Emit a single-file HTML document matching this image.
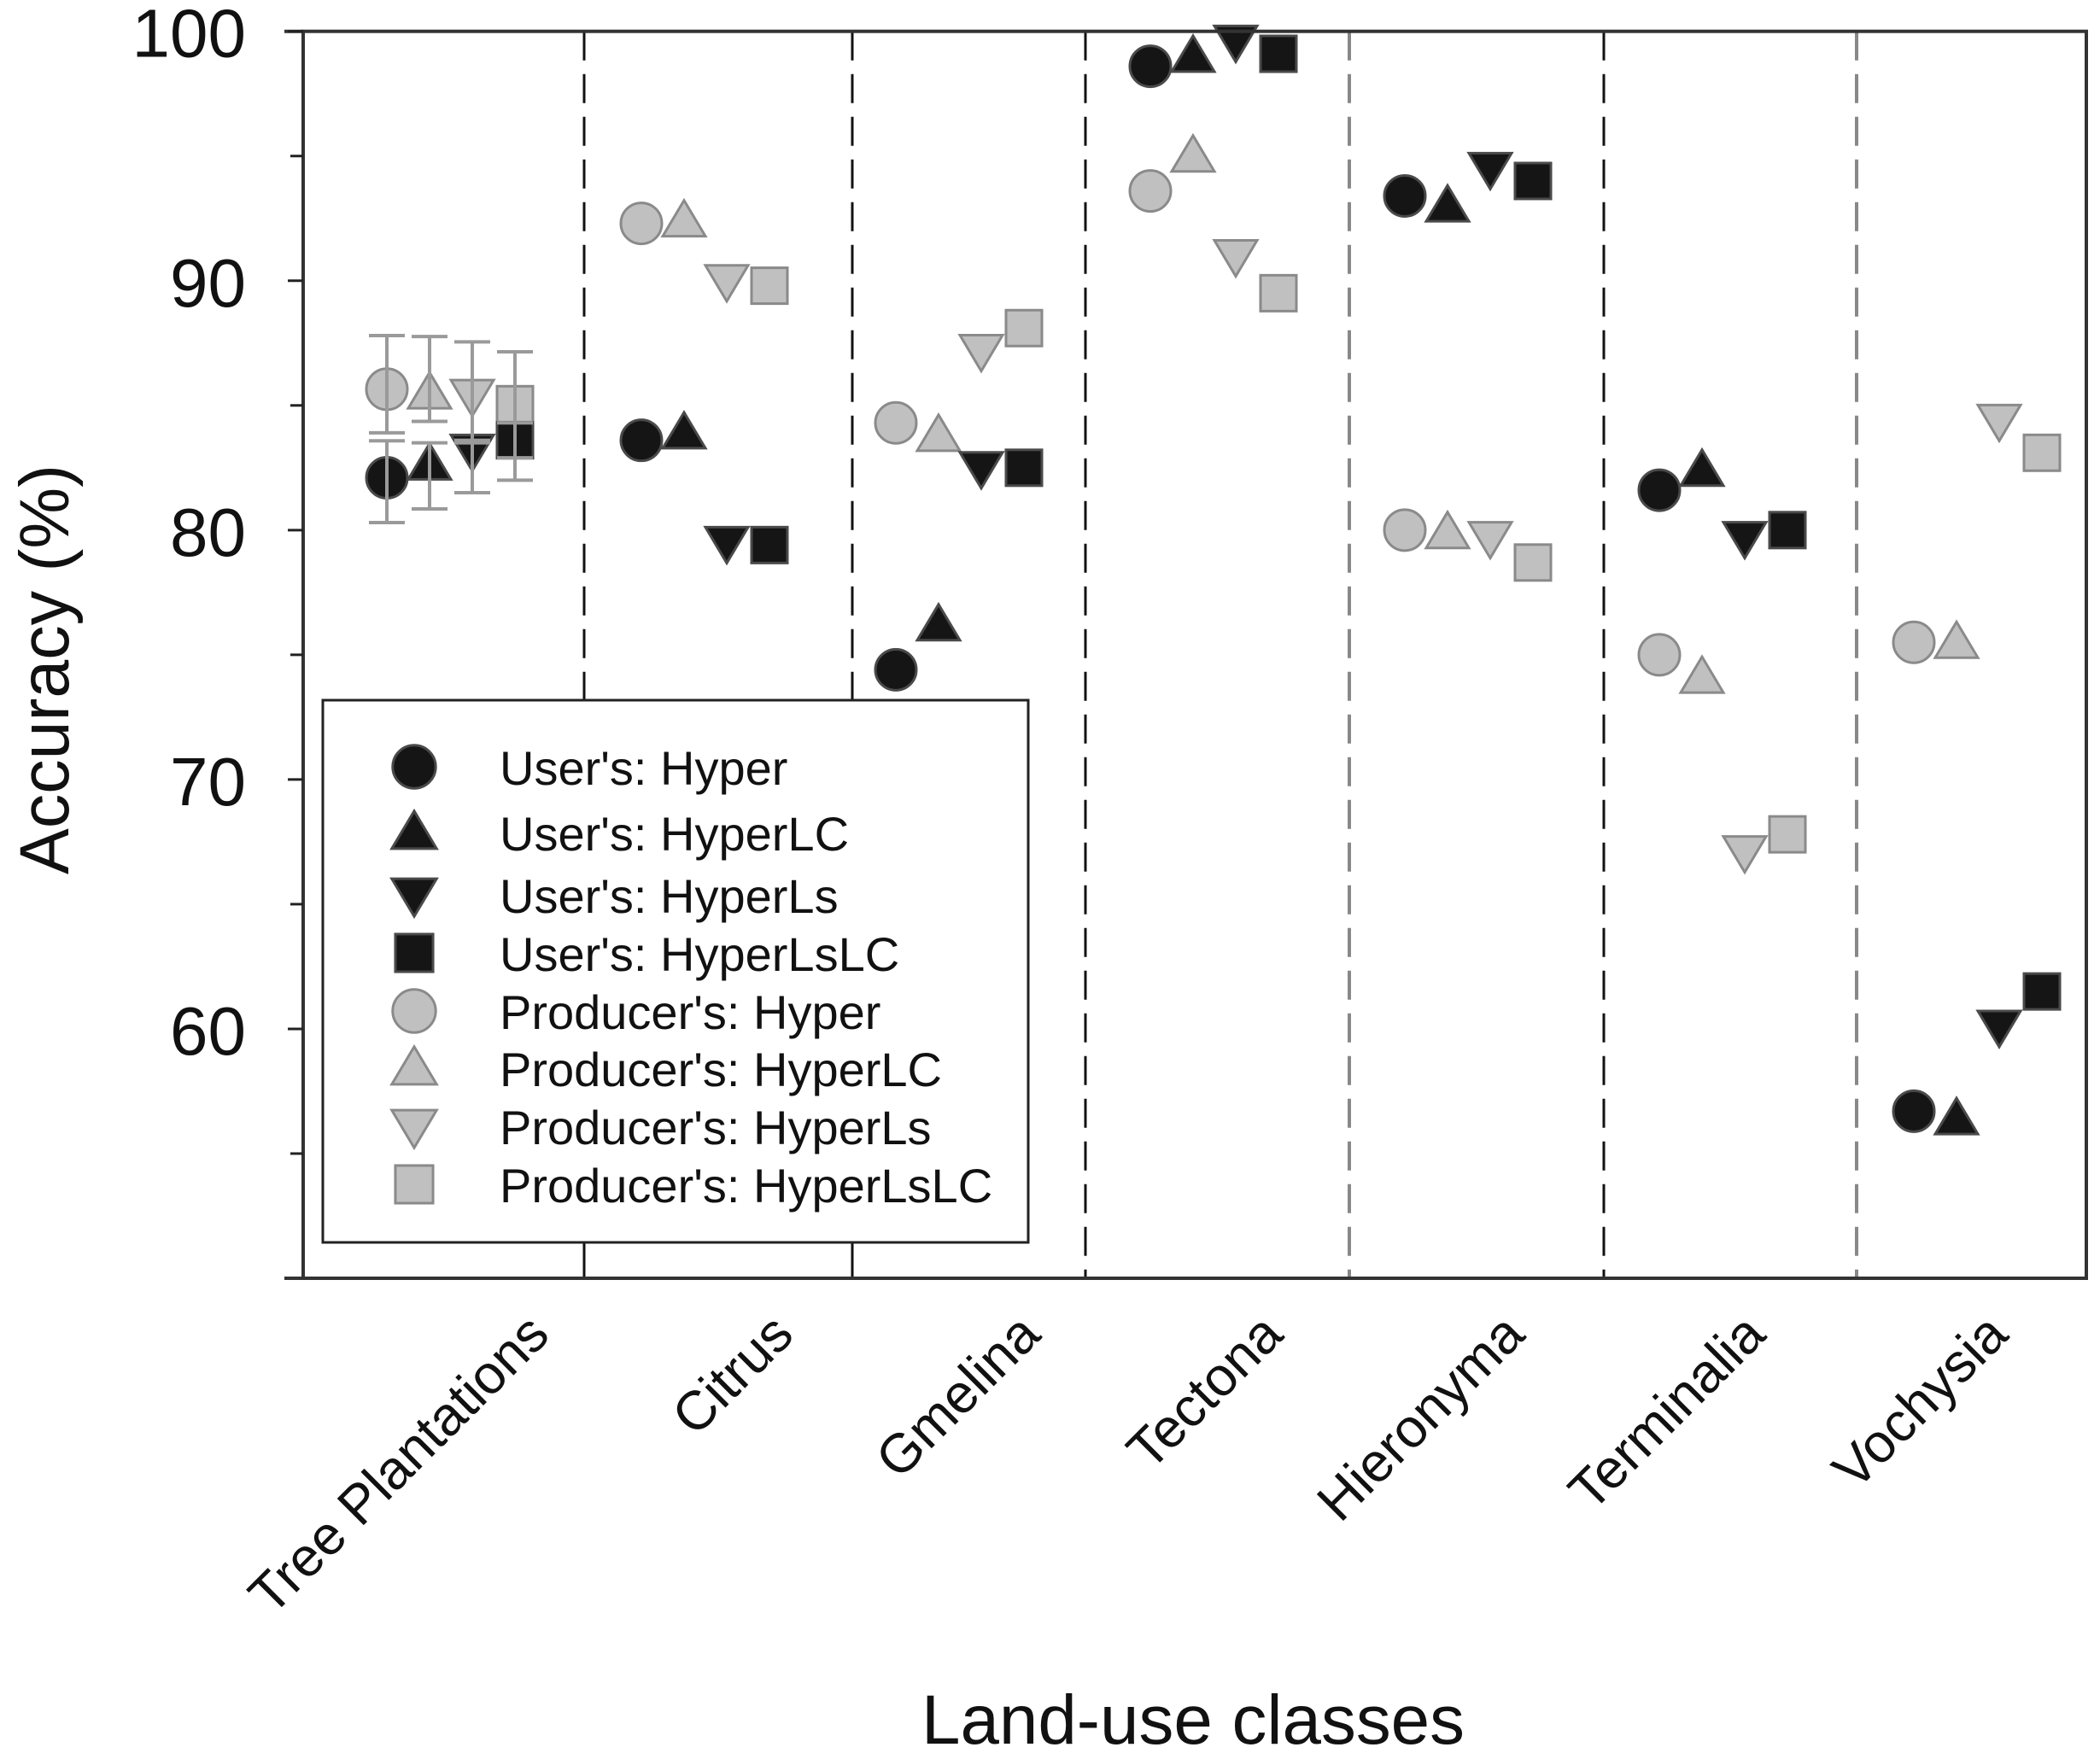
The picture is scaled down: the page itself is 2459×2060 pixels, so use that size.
<!DOCTYPE html>
<html><head><meta charset="utf-8"><style>
html,body{margin:0;padding:0;background:#fff}
svg{display:block}
text{font-family:"Liberation Sans",sans-serif;fill:#111}
</style></head><body>
<svg id="chart" width="2459" height="2060" viewBox="0 0 2459 2060" xmlns="http://www.w3.org/2000/svg">
<g id="grid"></g>
<g id="errs"></g>
<g id="marks"></g>
<g id="legend"></g>
<g id="axes"></g>
</svg>
<script>
const categories = ["Tree Plantations","Citrus","Gmelina","Tectona","Hieronyma","Terminalia","Vochysia"];
const seriesNames = ["User's: Hyper","User's: HyperLC","User's: HyperLs","User's: HyperLsLC","Producer's: Hyper","Producer's: HyperLC","Producer's: HyperLs","Producer's: HyperLsLC"];
const userHyper    = [82.1, 83.6, 74.4, 98.6, 93.4, 81.6, 56.7];
const userHyperLC  = [82.65,83.9, 76.2, 99.0, 93.0, 82.4, 56.4];
const userHyperLs  = [83.2, 79.5, 82.5, 99.6, 94.5, 79.7, 60.1];
const userHyperLsLC= [83.6, 79.4, 82.5, 99.1, 94.0, 80.0, 61.5];
const prodHyper    = [85.65,92.3, 84.3, 93.6, 80.0, 75.0, 75.5];
const prodHyperLC  = [85.5, 92.4, 83.8, 95.0, 79.9, 74.1, 75.5];
const prodHyperLs  = [85.4, 90.0, 87.2, 91.0, 79.7, 67.1, 84.4];
const prodHyperLsLC= [85.05,89.8, 88.1, 89.5, 78.7, 67.8, 83.1];
// error bars (first category only): upper, lower
const errHigh = [83.58, 83.5, 83.6, 84.3, 87.8, 87.76, 87.55, 87.15];
const errLow  = [80.3, 80.85, 81.5, 82.0, 83.9, 84.36, 83.5, 82.9];
const yTicks = [60, 70, 80, 90, 100];
const yMinor = [55, 65, 75, 85, 95];

const NS="http://www.w3.org/2000/svg";
const L=355, R=2443, T=36.7, B=1497;
const yMin=50, yMax=100;
function y(v){return B-(v-yMin)/(yMax-yMin)*(B-T);}
function xc(i,j){return 453+298*i+50*j;}
function mk(tag,attrs,parent){const e=document.createElementNS(NS,tag);for(const k in attrs)e.setAttribute(k,attrs[k]);parent.appendChild(e);return e;}

const allSeries=[userHyper,userHyperLC,userHyperLs,userHyperLsLC,prodHyper,prodHyperLC,prodHyperLs,prodHyperLsLC];
const shapes=["circle","up","down","square","circle","up","down","square"];

function marker(parent,shape,cx,cy,black,s){
  s=s||1;
  const fill=black?"#151515":"#c0c0c0", stroke=black?"#4a4a4a":"#8a8a8a";
  let e;
  if(shape==="circle") e=mk("circle",{cx:cx,cy:cy,r:24*s,fill:fill,stroke:stroke,"stroke-width":3},parent);
  else if(shape==="up") e=mk("polygon",{points:`${cx-25*s},${cy+18*s} ${cx+25*s},${cy+18*s} ${cx},${cy-24*s}`,fill:fill,stroke:stroke,"stroke-width":3},parent);
  else if(shape==="down") e=mk("polygon",{points:`${cx-25*s},${cy-18*s} ${cx+25*s},${cy-18*s} ${cx},${cy+24*s}`,fill:fill,stroke:stroke,"stroke-width":3},parent);
  else e=mk("rect",{x:cx-21*s,y:cy-21*s,width:42*s,height:42*s,fill:fill,stroke:stroke,"stroke-width":3},parent);
  return e;
}

const grid=document.getElementById("grid");
const divX=[684,998,1271,1580,1878,2174];
const divCol=["#111","#111","#111","#888","#111","#888"];
divX.forEach((x,i)=>{
  const segs = i<2 ? [[T,820],[1450,B]] : [[T,B]];
  segs.forEach(sg=>{
    const l=mk("line",{x1:x,x2:x,y1:sg[0],y2:sg[1],stroke:divCol[i],"stroke-width":i==3||i==5?4:3,"stroke-dasharray":sg[1]-sg[0]<100?"none":"34,16"},grid);
    
    
  });
});

const marks=document.getElementById("marks");
[4,5,6,7,0,1,2,3].forEach(si=>{
  allSeries[si].forEach((v,i)=>{
    const m=marker(marks,shapes[si],xc(i,si%4),y(v),si<4);
    
    
  });
});
allSeries.forEach((s,si)=>{
  const x=xc(0,si%4);
  const g=mk("g",{stroke:"#9a9a9a","stroke-width":4},marks);
  
  
  mk("line",{x1:x,x2:x,y1:y(errHigh[si]),y2:y(errLow[si])},g);
  mk("line",{x1:x-21,x2:x+21,y1:y(errHigh[si]),y2:y(errHigh[si])},g);
  mk("line",{x1:x-21,x2:x+21,y1:y(errLow[si]),y2:y(errLow[si])},g);
});

const lg=document.getElementById("legend");
const box=mk("rect",{x:378,y:820,width:826,height:635,fill:"#fff",stroke:"#222","stroke-width":3},lg);


const rowY=[898,975,1048,1116,1184,1251,1319,1387];
seriesNames.forEach((n,i)=>{
  const m=marker(lg,shapes[i],485,rowY[i],i<4,1.05);
  
  
  const t=mk("text",{x:585,y:rowY[i]+21,"font-size":56},lg);
  t.textContent=n;
  
  
});

const ax=document.getElementById("axes");
mk("rect",{x:L,y:T,width:R-L,height:B-T,fill:"none",stroke:"#333","stroke-width":4},ax);
mk("line",{x1:333,x2:L,y1:T,y2:T,stroke:"#333","stroke-width":4},ax);
mk("line",{x1:333,x2:L,y1:B,y2:B,stroke:"#333","stroke-width":4},ax);
yTicks.forEach(v=>{
  mk("line",{x1:337,x2:L,y1:y(v),y2:y(v),stroke:"#222","stroke-width":3},ax);
});
yMinor.forEach(v=>{
  mk("line",{x1:340,x2:L,y1:y(v),y2:y(v),stroke:"#222","stroke-width":3},ax);
});
yTicks.forEach(v=>{
  const t=mk("text",{x:288,y:y(v)+30,"font-size":80,"text-anchor":"end"},ax);
  t.textContent=v;
  
  
});
const xEnds=[646,932,1221,1505,1788,2070,2354];
categories.forEach((c,i)=>{
  const t=mk("text",{x:xEnds[i],y:1566,"font-size":64,"text-anchor":"end",transform:`rotate(-45 ${xEnds[i]} 1566)`},ax);
  t.textContent=c;
  
  
});
const xt=mk("text",{x:1397,y:2042,"font-size":82,"text-anchor":"middle",textLength:636,lengthAdjust:"spacingAndGlyphs"},ax);
xt.textContent="Land-use classes";


const yt=mk("text",{x:0,y:0,"font-size":82,"text-anchor":"middle",textLength:480,lengthAdjust:"spacingAndGlyphs",transform:"translate(80 784) rotate(-90)"},ax);
yt.textContent="Accuracy (%)";


</script>
</body></html>
